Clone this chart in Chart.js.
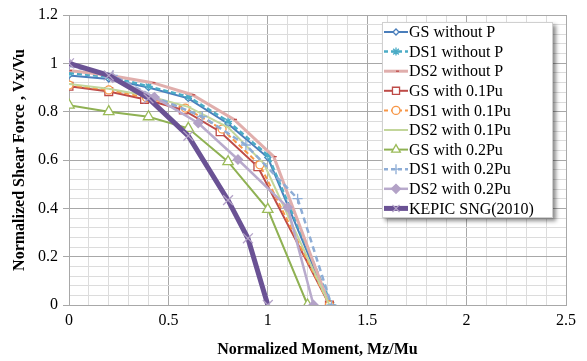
<!DOCTYPE html>
<html>
<head>
<meta charset="utf-8">
<script src="https://cdn.jsdelivr.net/npm/chart.js@4"></script>
<style>
  html, body { margin: 0; padding: 0; background: #fff; }
  #wrap { width: 587px; height: 361px; }
</style>
</head>
<body>
<div id="wrap"><canvas id="chart" width="587" height="361"></canvas></div>
<script>
// Mz/Mu (x) and Vx/Vu (y) for each interaction curve
const gsNoP_M   = [0, 0.2, 0.4, 0.6, 0.8, 1.0, 1.31];
const gsNoP_V   = [0.95, 0.935, 0.9, 0.855, 0.75, 0.61, 0];
const ds1NoP_M  = [0, 0.2, 0.4, 0.6, 0.8, 1.0, 1.32];
const ds1NoP_V  = [0.96, 0.945, 0.905, 0.862, 0.76, 0.62, 0];
const ds2NoP_M  = [0, 0.21, 0.42, 0.62, 0.83, 1.03, 1.31];
const ds2NoP_V  = [0.97, 0.95, 0.92, 0.87, 0.768, 0.614, 0];
const gs01_M    = [0, 0.2, 0.38, 0.575, 0.76, 0.95, 1.31];
const gs01_V    = [0.905, 0.883, 0.851, 0.807, 0.717, 0.572, 0];
const ds101_M   = [0, 0.2, 0.39, 0.585, 0.77, 0.96, 1.31];
const ds101_V   = [0.91, 0.89, 0.858, 0.815, 0.728, 0.58, 0];
const ds201_M   = [0, 0.2, 0.4, 0.6, 0.8, 0.98, 1.31];
const ds201_V   = [0.915, 0.895, 0.865, 0.82, 0.735, 0.585, 0];
const gs02_M    = [0, 0.2, 0.4, 0.6, 0.8, 1.0, 1.2];
const gs02_V    = [0.827, 0.8, 0.779, 0.731, 0.593, 0.396, 0];
const ds102_M   = [0, 0.22, 0.43, 0.67, 0.89, 1.15, 1.32];
const ds102_V   = [0.99, 0.95, 0.86, 0.78, 0.662, 0.44, 0];
const ds202_M   = [0, 0.22, 0.43, 0.65, 0.85, 1.1, 1.23];
const ds202_V   = [1.0, 0.94, 0.86, 0.753, 0.602, 0.404, 0];
const kepic_M   = [0, 0.2, 0.4, 0.6, 0.8, 0.9, 1.0];
const kepic_V   = [1.0, 0.95, 0.855, 0.70, 0.434, 0.276, 0];

const seriesNames = ['GS without P', 'DS1 without P', 'DS2 without P',
  'GS with 0.1Pu', 'DS1 with 0.1Pu', 'DS2 with 0.1Pu',
  'GS with 0.2Pu', 'DS1 with 0.2Pu', 'DS2 with 0.2Pu', 'KEPIC SNG(2010)'];

// tick labels shown on the major grid lines
const xTickLabels = ['0', '0.5', '1', '1.5', '2', '2.5'];
const yTickLabels = ['0', '0.2', '0.4', '0.6', '0.8', '1', '1.2'];

function pts(xs, ys) {
  return xs.map((x, i) => ({ x: x, y: ys[i] }));
}

function isMultiple(v, step) {
  const r = v / step;
  return Math.abs(r - Math.round(r)) < 1e-6;
}

const styles = [
  { c: '#4a7ebb', w: 2,   dash: [],     ps: 'rectRot',  r: 3,   pb: '#4a7ebb', pf: '#fff' },
  { c: '#4bacc6', w: 2.5, dash: [5, 3], ps: 'star',     r: 4,   pb: '#4bacc6', pf: '#4bacc6' },
  { c: '#e0aeac', w: 3,   dash: [],     ps: 'dash',     r: 3,   pb: '#c0504d', pf: '#c0504d' },
  { c: '#be4b48', w: 2,   dash: [],     ps: 'rect',     r: 5.5, pb: '#be4b48', pf: '#fff' },
  { c: '#f79646', w: 2,   dash: [5, 3], ps: 'circle',   r: 4,   pb: '#f79646', pf: '#fff' },
  { c: '#c3d69b', w: 2,   dash: [],     ps: 'dash',     r: 3,   pb: '#c3d69b', pf: '#c3d69b' },
  { c: '#8fb153', w: 2,   dash: [],     ps: 'triangle', r: 6,   pb: '#9bbb59', pf: '#fff' },
  { c: '#8eadd6', w: 2.5, dash: [6, 4], ps: 'cross',    r: 5,   pb: '#8eadd6', pf: '#8eadd6' },
  { c: '#b8aacc', w: 2.5, dash: [],     ps: 'rectRot',  r: 4.5, pb: '#b3a2c7', pf: '#b3a2c7' },
  { c: '#6a5294', w: 5,   dash: [],     ps: 'crossRot', r: 7,   pb: '#b3a2c7', pf: '#b3a2c7' }
];

const seriesData = [
  pts(gsNoP_M, gsNoP_V), pts(ds1NoP_M, ds1NoP_V), pts(ds2NoP_M, ds2NoP_V),
  pts(gs01_M, gs01_V), pts(ds101_M, ds101_V), pts(ds201_M, ds201_V),
  pts(gs02_M, gs02_V), pts(ds102_M, ds102_V), pts(ds202_M, ds202_V),
  pts(kepic_M, kepic_V)
];

const datasets = seriesNames.map((name, i) => {
  const s = styles[i];
  return {
    label: name,
    data: seriesData[i],
    showLine: true,
    borderColor: s.c,
    backgroundColor: s.c,
    borderWidth: s.w,
    borderDash: s.dash,
    tension: 0,
    pointStyle: s.ps,
    pointRadius: s.r,
    pointBorderColor: s.pb,
    pointBackgroundColor: s.pf,
    pointBorderWidth: 1.3,
    order: seriesNames.length - i
  };
});

const serif = "'Liberation Serif', 'Times New Roman', serif";

// boxed legend in the top-right of the plot with a soft drop shadow
const boxLegend = {
  id: 'boxLegend',
  afterDraw(chart) {
    const ctx = chart.ctx;
    const x0 = 382, y0 = 22, w = 171, h = 196;
    ctx.save();
    ctx.shadowColor = 'rgba(0,0,0,0.45)';
    ctx.shadowBlur = 4;
    ctx.shadowOffsetX = 3;
    ctx.shadowOffsetY = 3;
    ctx.fillStyle = '#fff';
    ctx.fillRect(x0, y0, w, h);
    ctx.restore();

    ctx.save();
    ctx.strokeStyle = '#d0d0d0';
    ctx.lineWidth = 1;
    ctx.strokeRect(x0 + 0.5, y0 + 0.5, w - 1, h - 1);
    ctx.font = '16px ' + serif;
    ctx.textBaseline = 'middle';
    ctx.fillStyle = '#000';
    seriesNames.forEach((name, i) => {
      const s = styles[i];
      const y = 32 + i * 19.6;
      ctx.save();
      ctx.strokeStyle = s.c;
      ctx.lineWidth = s.w;
      ctx.setLineDash(s.dash.length ? [4, 3] : []);
      ctx.beginPath();
      ctx.moveTo(384, y);
      ctx.lineTo(408, y);
      ctx.stroke();
      ctx.setLineDash([]);
      ctx.strokeStyle = s.pb;
      ctx.fillStyle = s.pf;
      ctx.lineWidth = 1.3;
      Chart.helpers.drawPoint(ctx, {
        pointStyle: s.ps,
        radius: Math.min(s.r, 5),
        borderWidth: 1.3,
        rotation: 0
      }, 396, y);
      ctx.restore();
      ctx.fillText(name, 409, y + 1);
    });
    ctx.restore();
  }
};

new Chart(document.getElementById('chart'), {
  type: 'scatter',
  data: { datasets: datasets },
  plugins: [boxLegend],
  options: {
    responsive: false,
    animation: false,
    layout: { padding: { top: 15, right: 21, left: 0, bottom: 0 } },
    plugins: {
      legend: { display: false },
      tooltip: { enabled: false }
    },
    scales: {
      x: {
        type: 'linear',
        min: 0,
        max: 2.5,
        afterFit: scale => { scale.height = 56; },
        ticks: {
          stepSize: 0.1,
          autoSkip: false,
          maxRotation: 0,
          padding: 6,
          color: '#000',
          font: { family: serif, size: 16 },
          callback: v => isMultiple(v, 0.5) ? xTickLabels[Math.round(v / 0.5)] : ''
        },
        grid: {
          drawTicks: false,
          color: c => isMultiple(c.tick.value, 0.5) ? '#a8a8a8' : '#dcdcdc',
          lineWidth: 1
        },
        border: { color: '#a8a8a8' },
        title: {
          display: true,
          text: 'Normalized Moment, Mz/Mu',
          color: '#000',
          font: { family: serif, size: 16, weight: 'bold' },
          padding: { top: 0, bottom: 2 }
        }
      },
      y: {
        type: 'linear',
        min: 0,
        max: 1.2,
        afterFit: scale => { scale.width = 69; },
        ticks: {
          stepSize: 0.04,
          autoSkip: false,
          padding: 5,
          color: '#000',
          font: { family: serif, size: 16 },
          callback: v => isMultiple(v, 0.2) ? yTickLabels[Math.round(v / 0.2)] : ''
        },
        grid: {
          tickLength: 6,
          color: c => isMultiple(c.tick.value, 0.2) ? '#a8a8a8' : '#dcdcdc',
          tickColor: c => isMultiple(c.tick.value, 0.2) ? '#a8a8a8' : 'rgba(0,0,0,0)',
          lineWidth: 1
        },
        border: { color: '#a8a8a8' },
        title: {
          display: true,
          text: 'Normalized Shear Force , Vx/Vu',
          color: '#000',
          font: { family: serif, size: 16, weight: 'bold' },
          padding: { top: 10, bottom: 0 }
        }
      }
    }
  }
});
</script>
</body>
</html>
